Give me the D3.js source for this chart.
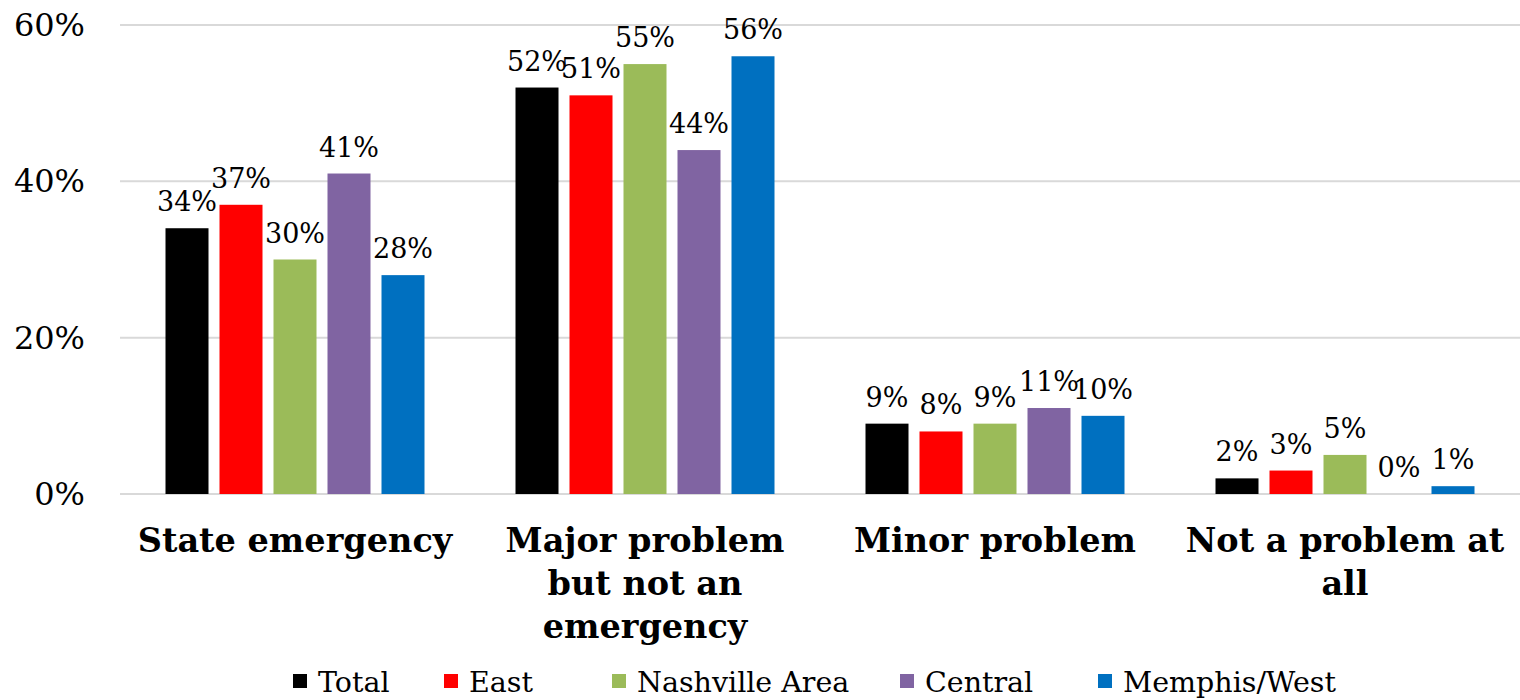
<!DOCTYPE html>
<html><head><meta charset="utf-8">
<script src="https://cdn.jsdelivr.net/npm/d3@7"></script>
<style>body{margin:0;background:#fff;} svg{display:block;}</style>
</head><body>
<svg id="c" width="1520" height="700"></svg>
<script>
const categories = [["State emergency"], ["Major problem", "but not an", "emergency"], ["Minor problem"], ["Not a problem at", "all"]];
const seriesNames = ["Total", "East", "Nashville Area", "Central", "Memphis/West"];
const seriesColors = ["#000000", "#FF0000", "#9BBB59", "#8064A2", "#0070C0"];
const total = [34, 52, 9, 2];
const east = [37, 51, 8, 3];
const nashville = [30, 55, 9, 5];
const central = [41, 44, 11, 0];
const memphis = [28, 56, 10, 1];
const yTicks = [0, 20, 40, 60];
const legendX = [293, 444, 612, 900, 1098];

const series = [total, east, nashville, central, memphis];
const font = "'DejaVu Serif', Georgia, serif";
const svg = d3.select("#c");
const pLeft = 120, pRight = 1520, pTop = 25, pBottom = 494;

const x0 = d3.scaleBand().domain(d3.range(categories.length)).range([pLeft, pRight]).paddingInner(0).paddingOuter(0);
const x1 = d3.scaleBand().domain(d3.range(series.length)).range([0, 259]).paddingInner(11/54).paddingOuter(0);
const y = d3.scaleLinear().domain([0, 60]).range([pBottom, pTop]);

svg.append("g").selectAll("line").data(yTicks).join("line")
  .attr("x1", pLeft).attr("x2", pRight)
  .attr("y1", d => y(d)).attr("y2", d => y(d))
  .attr("stroke", "#d9d9d9").attr("stroke-width", 2);

svg.append("g").selectAll("text").data(yTicks).join("text")
  .attr("x", 85).attr("y", d => y(d) + 11)
  .attr("text-anchor", "end")
  .attr("font-family", font).attr("font-size", 32).attr("fill", "#000")
  .text(d => d + "%");

const groups = svg.append("g").selectAll("g").data(categories).join("g")
  .attr("transform", (d, i) => `translate(${x0(i) + (x0.bandwidth() - 259) / 2},0)`);

groups.each(function(cat, ci) {
  const g = d3.select(this);
  series.forEach((s, si) => {
    const v = s[ci];
    g.append("rect")
      .attr("x", x1(si)).attr("width", x1.bandwidth())
      .attr("y", y(v)).attr("height", pBottom - y(v))
      .attr("fill", seriesColors[si]);
  });
  series.forEach((s, si) => {
    const v = s[ci];
    g.append("text")
      .attr("x", x1(si) + x1.bandwidth() / 2)
      .attr("y", y(v) - 17)
      .attr("text-anchor", "middle")
      .attr("font-family", font).attr("font-size", 27).attr("fill", "#000")
      .text(v + "%");
  });
});

svg.append("g").selectAll("text").data(categories).join("text")
  .attr("x", (d, i) => x0(i) + x0.bandwidth() / 2)
  .attr("y", 552)
  .attr("text-anchor", "middle")
  .attr("font-family", font).attr("font-weight", "bold").attr("font-size", 33.5).attr("fill", "#000")
  .each(function(lines) {
    const t = d3.select(this);
    lines.forEach((ln, li) => {
      t.append("tspan").attr("x", t.attr("x")).attr("dy", li === 0 ? 0 : 43).text(ln);
    });
  });

const lg = svg.append("g").selectAll("g").data(seriesNames).join("g")
  .attr("transform", (d, i) => `translate(${legendX[i]},0)`);
lg.append("rect").attr("x", 0).attr("y", 674).attr("width", 14).attr("height", 14)
  .attr("fill", (d, i) => seriesColors[i]);
lg.append("text").attr("x", 25).attr("y", 692)
  .attr("font-family", font).attr("font-size", 28.5).attr("fill", "#000")
  .text(d => d);
</script>
</body></html>
